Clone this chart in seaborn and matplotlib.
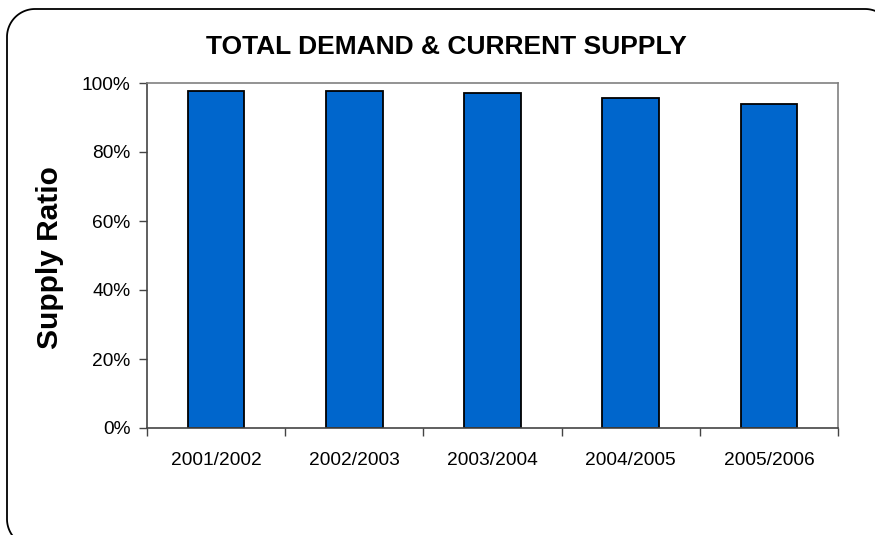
import matplotlib
matplotlib.use("Agg")
import matplotlib.pyplot as plt
from matplotlib.lines import Line2D
from matplotlib.ticker import PercentFormatter, FixedLocator
import numpy as np
import seaborn as sns
import pandas as pd

seasons = ["2001/2002", "2002/2003", "2003/2004", "2004/2005", "2005/2006"]
supply_ratio = [97.8, 97.8, 97.2, 95.6, 93.8]

sns.set_style("white")
plt.rcParams["font.family"] = ["Liberation Sans", "DejaVu Sans"]
plt.rcParams["text.color"] = "black"
plt.rcParams["axes.labelcolor"] = "black"
plt.rcParams["xtick.color"] = "black"
plt.rcParams["ytick.color"] = "black"

df = pd.DataFrame({"season": seasons, "ratio": supply_ratio})

W, H = 875, 535
fig = plt.figure(figsize=(W / 100, H / 100), dpi=100)
ax = fig.add_axes([147 / W, 1 - 428 / H, (838 - 147) / W, (428 - 83) / H])

# rounded outer frame (pixel units from the top-left), only its visible part
r = 28
left, top, right, bottom = 7, 9, 893, 547
def arc(cx, cy, a0, a1):
    t = np.radians(np.linspace(a0, a1, 40))
    return cx + r * np.cos(t), cy - r * np.sin(t)
xs, ys = [], []
for seg in [arc(left + r, bottom - r, 225, 180),
            arc(left + r, top + r, 180, 90),
            arc(right - r, top + r, 90, 45)]:
    xs.extend(seg[0]); ys.extend(seg[1])
xs, ys = np.array(xs), np.array(ys)
frame = Line2D(xs / W, 1 - ys / H, transform=fig.transFigure,
               color="black", linewidth=1.3, solid_capstyle="butt")
fig.add_artist(frame)

sns.barplot(data=df, x="season", y="ratio", color="#0066CC", width=0.41,
            edgecolor="black", linewidth=1.3, saturation=1, ax=ax)

ax.set_ylim(0, 100)
ax.set_xlim(-0.5, 4.5)
ax.yaxis.set_major_locator(FixedLocator([0, 20, 40, 60, 80, 100]))
ax.yaxis.set_major_formatter(PercentFormatter(decimals=0))
ax.xaxis.set_minor_locator(FixedLocator([i - 0.5 for i in range(6)]))

for side in ["top", "right"]:
    ax.spines[side].set_color("#808080")
    ax.spines[side].set_linewidth(1.2)
for side in ["left", "bottom"]:
    ax.spines[side].set_color("#444444")
    ax.spines[side].set_linewidth(1.2)

ax.tick_params(axis="y", which="major", left=True, length=6, width=1,
               color="#444444", labelsize=13.8, pad=6)
ax.tick_params(axis="x", which="major", bottom=False, labelsize=13.8, pad=14)
ax.tick_params(axis="x", which="minor", bottom=True, length=6, width=1,
               color="#444444")

ax.set_xlabel("")
ax.set_ylabel("")
fig.text(50 / W, 1 - 258 / H, "Supply Ratio", rotation=90, ha="center",
         va="center", fontsize=21.5, fontweight="bold")
fig.text(446 / W, 1 - 47 / H, "TOTAL DEMAND & CURRENT SUPPLY", ha="center",
         va="center", fontsize=19, fontweight="bold")

fig.savefig("out.png", dpi=100)
